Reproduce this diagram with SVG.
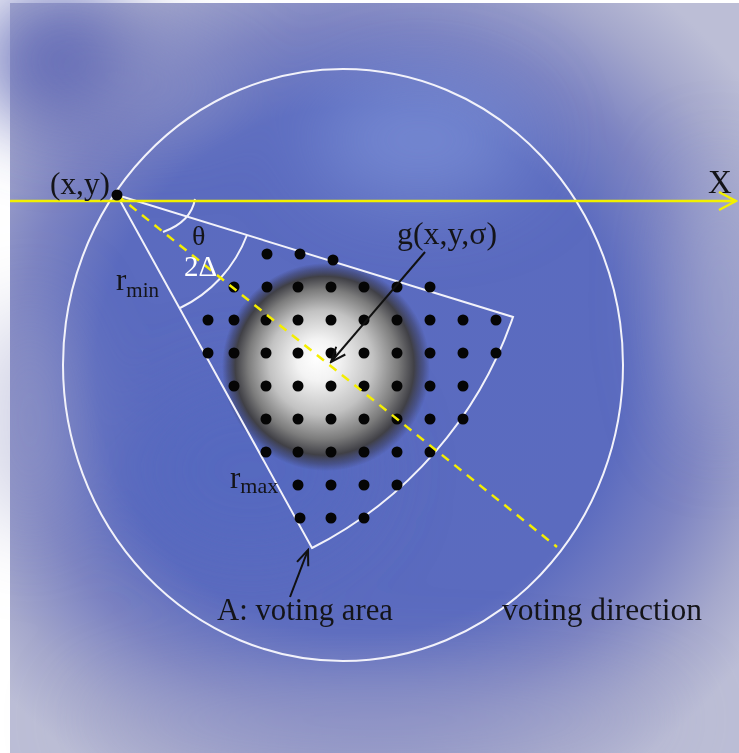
<svg xmlns="http://www.w3.org/2000/svg" width="739" height="753" viewBox="0 0 739 753">
<defs>
<style>
.w{fill:none;stroke:#f2f2fa;stroke-width:2}
.t{font-family:'Liberation Serif','Times New Roman',serif;font-size:31px;fill:#141418}
.dot{fill:#050505}
.arr{fill:none;stroke:#111;stroke-width:2}
</style>
<filter id="blur" x="-50%" y="-50%" width="200%" height="200%"><feGaussianBlur stdDeviation="40"/></filter>
<radialGradient id="bg" cx="360" cy="370" r="480" gradientUnits="userSpaceOnUse">
<stop offset="0" stop-color="#5a6bc0"/>
<stop offset="0.55" stop-color="#5b6bbf"/>
<stop offset="0.72" stop-color="#7d84c2"/>
<stop offset="0.88" stop-color="#a5a8cc"/>
<stop offset="1" stop-color="#bcbed6"/>
</radialGradient>
<radialGradient id="blob" cx="326" cy="367" r="104" fx="316" fy="358" gradientUnits="userSpaceOnUse">
<stop offset="0" stop-color="#ffffff"/>
<stop offset="0.2" stop-color="#f3f3f3"/>
<stop offset="0.5" stop-color="#c2c2c2"/>
<stop offset="0.72" stop-color="#7c7c7c"/>
<stop offset="0.86" stop-color="#404046"/>
<stop offset="0.94" stop-color="#3a3c55" stop-opacity="0.5"/>
<stop offset="1" stop-color="#3a3c60" stop-opacity="0"/>
</radialGradient>
<marker id="ah" viewBox="-16 -8 18 16" refX="0" refY="0" markerWidth="18" markerHeight="16" markerUnits="userSpaceOnUse" orient="auto">
<path d="M-15,-6 L0,0 L-15,6" fill="none" stroke="#111" stroke-width="2"/>
</marker>
<marker id="ay" viewBox="-20 -11 22 22" refX="0" refY="0" markerWidth="22" markerHeight="22" markerUnits="userSpaceOnUse" orient="auto">
<path d="M-17,-9 L0,0 L-17,9" fill="none" stroke="#f2f000" stroke-width="2.5"/>
</marker>
</defs>
<rect width="739" height="753" fill="#ffffff"/>
<g id="background">
<rect x="10" y="3" width="729" height="750" fill="url(#bg)"/>
<g filter="url(#blur)">
<ellipse cx="60" cy="60" rx="80" ry="70" fill="#5a62b2" opacity="0.9"/>
<ellipse cx="420" cy="140" rx="110" ry="60" fill="#8096d8" opacity="0.7"/>
<ellipse cx="170" cy="90" rx="80" ry="40" fill="#8f95c8" opacity="0.5"/>
<ellipse cx="30" cy="420" rx="40" ry="120" fill="#9d9fc8" opacity="0.6"/>
<ellipse cx="380" cy="720" rx="300" ry="40" fill="#a3a5c9" opacity="0.6"/>
<ellipse cx="720" cy="300" rx="40" ry="140" fill="#aeb2d2" opacity="0.6"/>
<ellipse cx="250" cy="470" rx="120" ry="90" fill="#5468c0" opacity="0.6"/>
</g>
</g>
<g id="gaussian">
<circle cx="326" cy="367" r="104" fill="url(#blob)"/>
</g>
<g id="circle">
<ellipse class="w" cx="343" cy="365" rx="280" ry="296"/>
</g>
<g id="voting-area">
<path class="w" d="M117,195 L513,317 A408,408 0 0 1 312,548 Z" stroke-linejoin="miter"/>
<path class="w" d="M247,235 A133,133 0 0 1 180,308"/>
<path class="w" d="M195,199 Q191,222 163,232"/>
</g>
<g id="dots" class="dot">
<circle cx="267" cy="254" r="5.5"/><circle cx="300" cy="254" r="5.5"/><circle cx="333" cy="260" r="5.5"/>
<circle cx="234" cy="287" r="5.5"/><circle cx="267" cy="287" r="5.5"/><circle cx="298" cy="287" r="5.5"/><circle cx="331" cy="287" r="5.5"/><circle cx="364" cy="287" r="5.5"/><circle cx="397" cy="287" r="5.5"/><circle cx="430" cy="287" r="5.5"/>
<circle cx="208" cy="320" r="5.5"/><circle cx="234" cy="320" r="5.5"/><circle cx="266" cy="320" r="5.5"/><circle cx="298" cy="320" r="5.5"/><circle cx="331" cy="320" r="5.5"/><circle cx="364" cy="320" r="5.5"/><circle cx="397" cy="320" r="5.5"/><circle cx="430" cy="320" r="5.5"/><circle cx="463" cy="320" r="5.5"/><circle cx="496" cy="320" r="5.5"/>
<circle cx="208" cy="353" r="5.5"/><circle cx="234" cy="353" r="5.5"/><circle cx="266" cy="353" r="5.5"/><circle cx="298" cy="353" r="5.5"/><circle cx="331" cy="353" r="5.5"/><circle cx="364" cy="353" r="5.5"/><circle cx="397" cy="353" r="5.5"/><circle cx="430" cy="353" r="5.5"/><circle cx="463" cy="353" r="5.5"/><circle cx="496" cy="353" r="5.5"/>
<circle cx="234" cy="386" r="5.5"/><circle cx="266" cy="386" r="5.5"/><circle cx="298" cy="386" r="5.5"/><circle cx="331" cy="386" r="5.5"/><circle cx="364" cy="386" r="5.5"/><circle cx="397" cy="386" r="5.5"/><circle cx="430" cy="386" r="5.5"/><circle cx="463" cy="386" r="5.5"/>
<circle cx="266" cy="419" r="5.5"/><circle cx="298" cy="419" r="5.5"/><circle cx="331" cy="419" r="5.5"/><circle cx="364" cy="419" r="5.5"/><circle cx="397" cy="419" r="5.5"/><circle cx="430" cy="419" r="5.5"/><circle cx="463" cy="419" r="5.5"/>
<circle cx="266" cy="452" r="5.5"/><circle cx="298" cy="452" r="5.5"/><circle cx="331" cy="452" r="5.5"/><circle cx="364" cy="452" r="5.5"/><circle cx="397" cy="452" r="5.5"/><circle cx="430" cy="452" r="5.5"/>
<circle cx="298" cy="485" r="5.5"/><circle cx="331" cy="485" r="5.5"/><circle cx="364" cy="485" r="5.5"/><circle cx="397" cy="485" r="5.5"/>
<circle cx="300" cy="518" r="5.5"/><circle cx="331" cy="518" r="5.5"/><circle cx="364" cy="518" r="5.5"/>
</g>
<g id="connectors">
<line x1="10" y1="201" x2="736" y2="201" stroke="#f2f000" stroke-width="2.5" marker-end="url(#ay)"/>
<line x1="117" y1="195" x2="557" y2="547" stroke="#f4ee00" stroke-width="2.5" stroke-dasharray="9 7"/>
<line class="arr" x1="425" y1="252" x2="331" y2="362" marker-end="url(#ah)"/>
<line class="arr" x1="290" y1="597" x2="308" y2="550" marker-end="url(#ah)"/>
</g>
<g id="point">
<circle cx="117" cy="195" r="5.5" fill="#050505"/>
</g>
<g id="labels">
<text class="t" x="50" y="194" textLength="60" lengthAdjust="spacingAndGlyphs">(x,y)</text>
<text class="t" x="708" y="193" style="font-size:33px">X</text>
<text class="t" x="192" y="245" style="font-size:28px">θ</text>
<text class="t" x="184" y="276" style="fill:#ffffff;font-size:29px">2Δ</text>
<text class="t" x="116" y="290">r<tspan style="font-size:21px" dy="7">min</tspan></text>
<text class="t" x="230" y="488">r<tspan style="font-size:22px" dy="5">max</tspan></text>
<text class="t" x="397" y="244" textLength="100" lengthAdjust="spacingAndGlyphs">g(x,y,σ)</text>
<text class="t" x="217" y="620" textLength="176" lengthAdjust="spacingAndGlyphs">A: voting area</text>
<text class="t" x="502" y="620" textLength="200" lengthAdjust="spacingAndGlyphs">voting direction</text>
</g>
</svg>
